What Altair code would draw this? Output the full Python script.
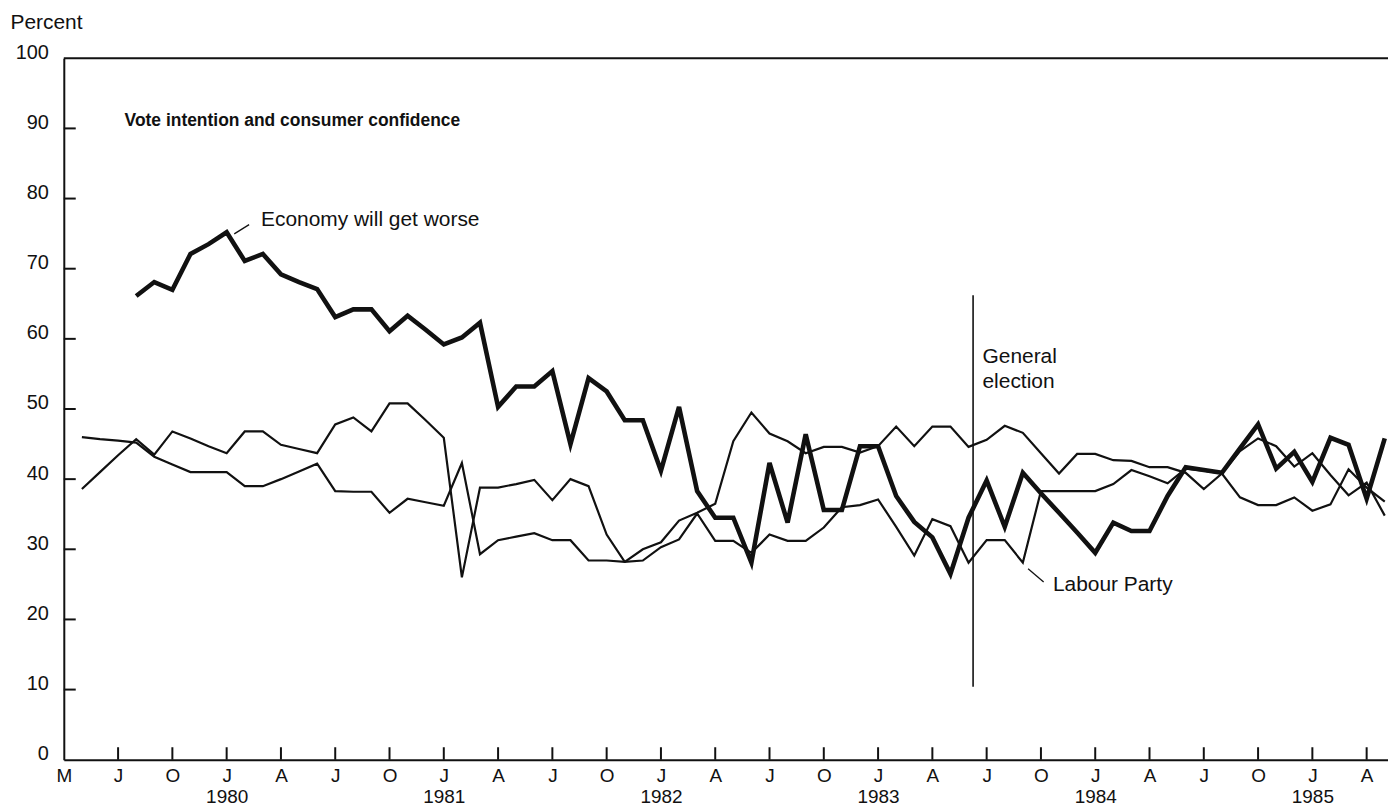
import altair as alt
import pandas as pd

FONT = "Liberation Sans"
INK = "#111111"

# ------------------------------------------------------------------
# Data (month index 0 = the "M" corner of the axis, one step per month)
# ------------------------------------------------------------------
econ_months = list(range(4, 74))
econ_worse = [66.1, 68.1, 67.0, 72.1, 73.5, 75.2, 71.1, 72.1, 69.2, 68.1,
              67.1, 63.1, 64.2, 64.2, 61.1, 63.3, 61.3, 59.2, 60.2, 62.3,
              50.3, 53.2, 53.2, 55.4, 45.0, 54.4, 52.5, 48.4, 48.4, 41.2,
              50.3, 38.3, 34.5, 34.5, 28.1, 42.3, 33.8, 46.4, 35.6, 35.6,
              44.7, 44.7, 37.6, 33.9, 31.7, 26.5, 34.5, 39.8, 33.2, 40.9,
              38.0, 35.2, 32.4, 29.5, 33.8, 32.6, 32.6, 37.6, 41.7, 41.3,
              40.9, 44.4, 47.8, 41.5, 43.9, 39.6, 45.9, 44.9, 37.2, 45.8]

party_months = list(range(1, 74))
labour = [38.6, 41.0, 43.4, 45.7, 43.5, 46.8, 45.8, 44.7, 43.7, 46.8,
          46.8, 44.9, 44.3, 43.7, 47.8, 48.8, 46.8, 50.8, 50.8, 48.4,
          45.9, 26.0, 38.8, 38.8, 39.3, 39.9, 37.0, 40.0, 39.0, 32.1,
          28.2, 28.4, 30.3, 31.4, 35.1, 31.2, 31.2, 29.5, 32.1, 31.2,
          31.2, 33.1, 36.0, 36.3, 37.1, 33.2, 29.1, 34.3, 33.3, 28.1,
          31.3, 31.3, 28.1, 38.3, 38.3, 38.3, 38.3, 39.3, 41.3, 40.4,
          39.4, 41.5, 41.2, 40.8, 37.4, 36.3, 36.3, 37.4, 35.5, 36.4,
          41.4, 38.8, 36.8]
conservative = [46.0, 45.7, 45.5, 45.2, 43.2, 42.1, 41.0, 41.0, 41.0, 39.0,
                39.0, 40.0, 41.1, 42.2, 38.3, 38.2, 38.2, 35.2, 37.2, 36.7,
                36.2, 42.3, 29.3, 31.3, 31.8, 32.3, 31.3, 31.3, 28.4, 28.4,
                28.2, 30.0, 31.0, 34.1, 35.2, 36.5, 45.4, 49.5, 46.5, 45.4,
                43.7, 44.6, 44.6, 43.8, 44.7, 47.5, 44.7, 47.5, 47.5, 44.6,
                45.6, 47.6, 46.6, 43.7, 40.8, 43.6, 43.6, 42.7, 42.6, 41.7,
                41.7, 40.9, 38.6, 40.8, 44.0, 45.8, 44.7, 41.8, 43.7, 40.6,
                37.7, 39.5, 34.8]

tick_months = list(range(0, 73, 3))
month_labels = ["M", "J", "O", "J", "A", "J", "O", "J", "A", "J", "O", "J", "A",
                "J", "O", "J", "A", "J", "O", "J", "A", "J", "O", "J", "A"]
year_months = [9, 21, 33, 45, 57, 69]
year_labels = ["1980", "1981", "1982", "1983", "1984", "1985"]
y_ticks = [0, 10, 20, 30, 40, 50, 60, 70, 80, 90, 100]
election_month = 50.25

# ------------------------------------------------------------------
# Layout
# ------------------------------------------------------------------
W, H = 1329, 704
XMAX = 73.18
XTICK_LEN = 1.78   # in percent units (~12.5 px)
YTICK_LEN = 0.66   # in months (~12 px)

x_scale = alt.Scale(domain=[0, XMAX], nice=False, zero=False)
y_scale = alt.Scale(domain=[0, 100], nice=False)

year_by_tick = dict(zip(year_months, year_labels))
m_arr = "[" + ",".join("'%s'" % m for m in month_labels) + "]"
y_arr = "[" + ",".join("'%s'" % year_by_tick.get(t, "") for t in tick_months) + "]"
k = "round(datum.value/3)"
label_expr = f"{y_arr}[{k}] == '' ? {m_arr}[{k}] : [{m_arr}[{k}], {y_arr}[{k}]]"

x_axis = alt.Axis(values=tick_months, labelExpr=label_expr, title=None, grid=False,
                  ticks=False, tickSize=0, domain=True, domainColor=INK, domainWidth=2,
                  labelFont=FONT, labelFontSize=19, labelColor=INK, labelPadding=7,
                  labelLineHeight=21, labelFlush=False, labelOverlap=False,
                  labelBaseline="top", labelAlign="center")
y_axis = alt.Axis(values=y_ticks, title="Percent", titleAngle=0, titleX=-54, titleY=-30,
                  titleAlign="left", titleBaseline="alphabetic", titleFont=FONT,
                  titleFontSize=21, titleFontWeight="normal", titleColor=INK,
                  grid=False, ticks=False, tickSize=0, domain=True, domainColor=INK,
                  domainWidth=2, labelFont=FONT, labelFontSize=20, labelColor=INK,
                  labelPadding=15.5, labelBaseline="alphabetic", labelAlign="right",
                  labelFlush=False, labelOverlap=False)

econ_df = pd.DataFrame({"m": econ_months, "v": econ_worse})
lab_df = pd.DataFrame({"m": party_months, "v": labour})
con_df = pd.DataFrame({"m": party_months, "v": conservative})
one = pd.DataFrame({"_": [0]})


def X(field):
    return alt.X(field, type="quantitative", scale=x_scale, axis=x_axis)


def Y(field):
    return alt.Y(field, type="quantitative", scale=y_scale, axis=y_axis)


def XD(val):
    return alt.XDatum(val, type="quantitative", scale=x_scale, axis=x_axis)


def YD(val):
    return alt.YDatum(val, type="quantitative", scale=y_scale, axis=y_axis)


def line(df, width):
    return alt.Chart(df).mark_line(color=INK, strokeWidth=width, clip=True).encode(
        x=X("m"), y=Y("v"))


con_line = line(con_df, 2.2)
lab_line = line(lab_df, 2.2)
econ_line = line(econ_df, 4.6)

xticks = alt.Chart(pd.DataFrame({"m": tick_months[1:]})).mark_rule(
    color=INK, strokeWidth=2).encode(x=X("m"), y=YD(0), y2=alt.Y2Datum(XTICK_LEN))
yticks = alt.Chart(pd.DataFrame({"v": y_ticks[1:-1]})).mark_rule(
    color=INK, strokeWidth=2).encode(y=Y("v"), x=XD(0), x2=alt.X2Datum(YTICK_LEN))
top_line = alt.Chart(one).mark_rule(color=INK, strokeWidth=2).encode(
    y=YD(100), x=XD(0), x2=alt.X2Datum(XMAX))

election = alt.Chart(one).mark_rule(color=INK, strokeWidth=1.6).encode(
    x=XD(election_month), y=YD(66.2), y2=alt.Y2Datum(10.4))


def leader(m1, v1, m2, v2):
    return alt.Chart(one).mark_rule(color=INK, strokeWidth=1.3).encode(
        x=XD(m1), y=YD(v1), x2=alt.X2Datum(m2), y2=alt.Y2Datum(v2))


def note(text, m, v, size=21, weight="normal"):
    return alt.Chart(one).mark_text(
        text=text, align="left", baseline="alphabetic", font=FONT, fontSize=size,
        fontWeight=weight, color=INK, lineHeight=25,
    ).encode(x=XD(m), y=YD(v))


title = note("Vote intention and consumer confidence", 3.36, 90.34, size=17.5, weight="bold")
econ_note = note("Economy will get worse", 10.9, 76.1)
econ_lead = leader(9.42, 74.96, 10.24, 76.28)
lab_note = note("Labour Party", 54.66, 24.0)
lab_lead = leader(53.29, 27.23, 54.15, 25.33)
elec_note = note(["General", "election"], 50.77, 56.53)

chart = alt.layer(
    con_line, lab_line, econ_line, xticks, yticks, top_line, election,
    title, econ_note, econ_lead, lab_note, lab_lead, elec_note,
).properties(
    width=W, height=H,
    autosize=alt.AutoSizeParams(type="none"),
    padding={"left": 56, "top": 49, "right": 0, "bottom": 48},
    background="white",
).configure_view(stroke=None)

chart.save("out.html", embed_options={"renderer": "svg", "actions": False})
